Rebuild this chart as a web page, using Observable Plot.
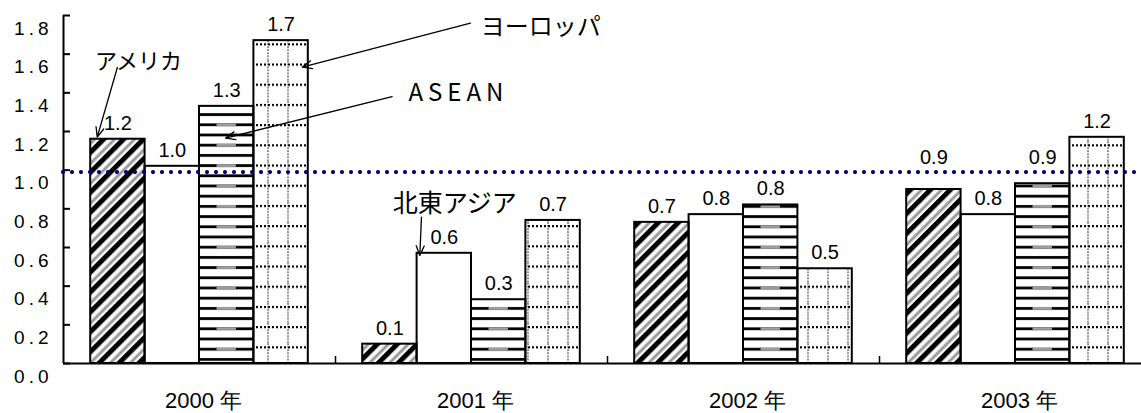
<!DOCTYPE html>
<html>
<head>
<meta charset="utf-8">
<script src="https://cdn.jsdelivr.net/npm/d3@7"></script>
<script src="https://cdn.jsdelivr.net/npm/@observablehq/plot@0.6"></script>
<style>
  html, body { margin: 0; padding: 0; background: #fff; }
  #chart svg { display: block; }
  .ytick text { letter-spacing: 4px; }
  .spaced text { letter-spacing: 5px; }
</style>
</head>
<body>
<svg width="0" height="0" style="position:absolute">
  <defs>
    <pattern id="pat-america" patternUnits="userSpaceOnUse" width="14.1" height="14.1" patternTransform="rotate(45)">
      <rect x="0" y="0" width="14.1" height="14.1" fill="#fff"/>
      <rect x="0" y="0" width="5" height="14.1" fill="#000"/>
      <rect x="8.5" y="0" width="1.2" height="14.1" fill="#c8c8c8"/>
      <rect x="9.7" y="0" width="1.4" height="14.1" fill="#707070"/>
      <rect x="11.1" y="0" width="1.2" height="14.1" fill="#c8c8c8"/>
    </pattern>
    <pattern id="pat-asean" patternUnits="userSpaceOnUse" width="10" height="10.2">
      <rect x="0" y="0" width="10" height="10.2" fill="#fff"/>
      <rect x="0" y="1" width="10" height="2.8" fill="#000"/>
    </pattern>
    <pattern id="pat-asean-gray" patternUnits="userSpaceOnUse" width="10" height="20.4">
      <rect x="0" y="1" width="10" height="2.8" fill="#a0a0a0"/>
    </pattern>
    <pattern id="pat-europe" patternUnits="userSpaceOnUse" width="20" height="20.2">
      <rect x="0" y="0" width="20" height="20.2" fill="#fff"/>
      <line x1="8" y1="0" x2="8" y2="20.2" stroke="#888" stroke-width="2" stroke-dasharray="1.6,1.4"/>
      <line x1="0" y1="4" x2="20" y2="4" stroke="#000" stroke-width="2" stroke-dasharray="2,2"/>
    </pattern>
  </defs>
</svg>
<div id="chart"></div>
<script>
// ---- data ----
const years = ["2000", "2001", "2002", "2003"];
const seriesNames = ["アメリカ", "北東アジア", "ASEAN", "ヨーロッパ"];
const america = [1.16, 0.10, 0.73, 0.90];
const neAsia  = [1.02, 0.57, 0.77, 0.77];
const asean   = [1.33, 0.33, 0.82, 0.93];
const europe  = [1.67, 0.74, 0.49, 1.17];
const refValue = 0.99;
const yTicks = [0, 0.2, 0.4, 0.6, 0.8, 1.0, 1.2, 1.4, 1.6, 1.8];
const yearSuffix = " 年";

// annotation anchors, in chart data units (x: bar slots, y: value)
const noteLabels = [
  {text: "アメリカ",   x: 1.38, y: 1.56},
  {text: "ヨーロッパ", x: 7.67, y: 1.737},
  {text: "ASEAN",     x: 6.34, y: 1.40},
  {text: "北東アジア", x: 7.19, y: 0.823}
];
const noteArrows = [
  {x1: 0.99, y1: 1.531, x2: 0.62, y2: 1.171},
  {x1: 7.48, y1: 1.760, x2: 4.39, y2: 1.533},
  {x1: 6.04, y1: 1.380, x2: 2.98, y2: 1.166},
  {x1: 6.58, y1: 0.757, x2: 6.55, y2: 0.559}
];

// ---- table built from the arrays ----
const seriesValues = [america, neAsia, asean, europe];
const seriesFill = ["url(#pat-america)", "#ffffff", "url(#pat-asean)", "url(#pat-europe)"];
const groupSize = seriesNames.length + 1; // one empty slot between years
const rows = years.flatMap((year, g) =>
  seriesValues.map((vals, s) => ({
    year, s, series: seriesNames[s], value: vals[g],
    x1: g * groupSize + 0.5 + s,
    x2: g * groupSize + 1.5 + s
  }))
);
const yearRows = years.map((year, g) => ({year, x: g * groupSize + groupSize / 2}));
const boundaries = years.slice(1).map((_, g) => (g + 1) * groupSize);

const fontLatin = "'Liberation Sans', Arial, sans-serif";
const fontJP = "'Noto Sans CJK JP', sans-serif";

const xRange = [63, 1151];
const yRange = [363, 15];
const yPerUnit = (yRange[0] - yRange[1]) / 1.8;
// tick lengths expressed in data units of each scale
const yTickLen = 7 * (years.length * groupSize) / (xRange[1] - xRange[0]);
const xTickLen = 7 / yPerUnit;

// value labels sit 16px above the bar; a label that would fall on the
// dotted reference line is lifted just above that line instead
const labelGap = 16;
const clashesRef = d => Math.abs((d.value - refValue) * yPerUnit + labelGap) < 12;
const fmt = d3.format(".1f");

const chart = Plot.plot({
  width: 1141,
  height: 413,
  marginTop: 15,
  marginBottom: 50,
  marginLeft: 63,
  marginRight: 0,
  style: {fontFamily: fontLatin, background: "#fff", overflow: "hidden"},
  x: {domain: [0, years.length * groupSize], range: xRange, axis: null},
  y: {domain: [0, 1.8], range: yRange, axis: null},
  marks: [
    // bars, patterned fills
    ...seriesFill.map((fill, s) =>
      Plot.rectY(rows.filter(d => d.s === s), {x1: "x1", x2: "x2", y1: 0, y2: "value", fill})
    ),
    // grey centre streaks on ASEAN bars
    Plot.rectY(rows.filter(d => d.s === 2), {x1: "x1", x2: "x2", y1: 0, y2: "value", fill: "url(#pat-asean-gray)", insetLeft: 17.5, insetRight: 17.5}),
    // bar outlines
    Plot.rectY(rows, {x1: "x1", x2: "x2", y1: 0, y2: "value", fill: "none", stroke: "#000", strokeWidth: 2}),
    // value labels
    Plot.text(rows.filter(d => !clashesRef(d)), {x: d => (d.x1 + d.x2) / 2, y: "value", text: d => fmt(d.value), dy: -labelGap, fontSize: 20, fill: "#000"}),
    Plot.text(rows.filter(clashesRef), {x: d => (d.x1 + d.x2) / 2, y: refValue, text: d => fmt(d.value), dy: -15, fontSize: 20, fill: "#000"}),
    // axes lines and ticks
    Plot.ruleY([0], {stroke: "#000", strokeWidth: 2}),
    Plot.ruleX([0], {y1: 0, y2: 1.8, stroke: "#000", strokeWidth: 2}),
    Plot.ruleY(yTicks, {y: d => d, x1: 0, x2: yTickLen, stroke: "#000", strokeWidth: 2}),
    Plot.ruleX(boundaries, {x: d => d, y1: 0, y2: xTickLen, stroke: "#000", strokeWidth: 1.5}),
    Plot.text(yTicks, {x: 0, y: d => d, text: d => d.toFixed(1), textAnchor: "end", dx: -11, dy: 13, fontSize: 19, fill: "#000", className: "ytick"}),
    Plot.text(yearRows, {x: "x", y: 0, text: d => d.year + yearSuffix, dx: 4, dy: 37, fontSize: 22, fill: "#000"}),
    // reference line
    Plot.ruleY([refValue], {stroke: "#00007f", strokeWidth: 4.2, strokeDasharray: "0,9", strokeLinecap: "round"}),
    // annotations
    Plot.arrow(noteArrows, {x1: "x1", y1: "y1", x2: "x2", y2: "y2", stroke: "#000", strokeWidth: 1.3, headLength: 12, headAngle: 45}),
    Plot.text(noteLabels.slice(0, 1), {x: "x", y: "y", text: "text", fontSize: 22, fontFamily: fontJP, fill: "#000"}),
    Plot.text(noteLabels.slice(1, 2), {x: "x", y: "y", text: "text", fontSize: 24, fontFamily: fontJP, textAnchor: "start", fill: "#000"}),
    Plot.text(noteLabels.slice(2, 3), {x: "x", y: "y", text: "text", fontSize: 24, fontFamily: fontJP, textAnchor: "start", fill: "#000", className: "spaced"}),
    Plot.text(noteLabels.slice(3, 4), {x: "x", y: "y", text: "text", fontSize: 25, fontFamily: fontJP, fill: "#000"})
  ]
});
document.getElementById("chart").appendChild(chart);
</script>
</body>
</html>
